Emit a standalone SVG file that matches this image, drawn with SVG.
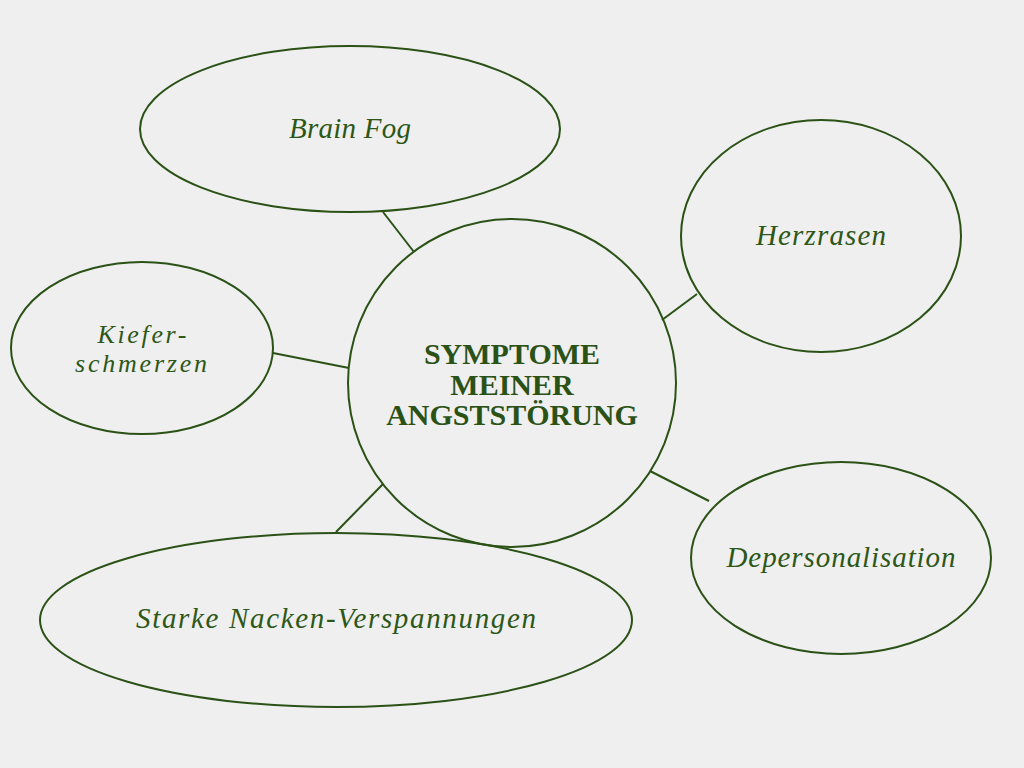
<svg xmlns="http://www.w3.org/2000/svg" width="1024" height="768" viewBox="0 0 1024 768">
<style>
.node{fill:none;stroke:#2b5216;stroke-width:2}
.conn line{stroke:#2b5216;stroke-width:2}
.lbl{font-family:"Liberation Serif","DejaVu Serif",serif;font-style:italic;font-size:29px;fill:#2d5718;text-anchor:middle}
.sm{font-size:26px}
.ctr{font-family:"Liberation Serif","DejaVu Serif",serif;font-weight:bold;font-size:30px;fill:#2b5216;text-anchor:middle}
</style>
<rect width="1024" height="768" fill="#efefef"/>
<g id="connectors" class="conn">
<line x1="383" y1="212" x2="414" y2="252"/>
<line x1="662" y1="320" x2="697" y2="294"/>
<line x1="273" y1="353" x2="349" y2="368"/>
<line x1="650" y1="471" x2="709" y2="501"/>
<line x1="383" y1="484" x2="336" y2="532"/>
</g>
<g id="center">
<circle class="node" cx="512" cy="383" r="164"/>
<text class="ctr" x="512" y="364">SYMPTOME</text>
<text class="ctr" x="512" y="395">MEINER</text>
<text class="ctr" x="512" y="425">ANGSTSTÖRUNG</text>
</g>
<g id="brainfog">
<ellipse class="node" cx="350" cy="129" rx="210" ry="83"/>
<text class="lbl" x="350" y="138" textLength="122" lengthAdjust="spacing">Brain Fog</text>
</g>
<g id="herzrasen">
<ellipse class="node" cx="821" cy="236" rx="140" ry="116"/>
<text class="lbl" x="821" y="245" textLength="130" lengthAdjust="spacing">Herzrasen</text>
</g>
<g id="kiefer">
<ellipse class="node" cx="142" cy="348" rx="131" ry="86"/>
<text class="lbl sm" x="142" y="343" textLength="89" lengthAdjust="spacing">Kiefer-</text>
<text class="lbl sm" x="141" y="372" textLength="132" lengthAdjust="spacing">schmerzen</text>
</g>
<g id="depers">
<ellipse class="node" cx="841" cy="558" rx="150" ry="96"/>
<text class="lbl" x="841" y="567" textLength="229" lengthAdjust="spacing">Depersonalisation</text>
</g>
<g id="nacken">
<ellipse class="node" cx="336" cy="620" rx="296" ry="87"/>
<text class="lbl" x="336" y="628" textLength="400" lengthAdjust="spacing">Starke Nacken-Verspannungen</text>
</g>
</svg>
